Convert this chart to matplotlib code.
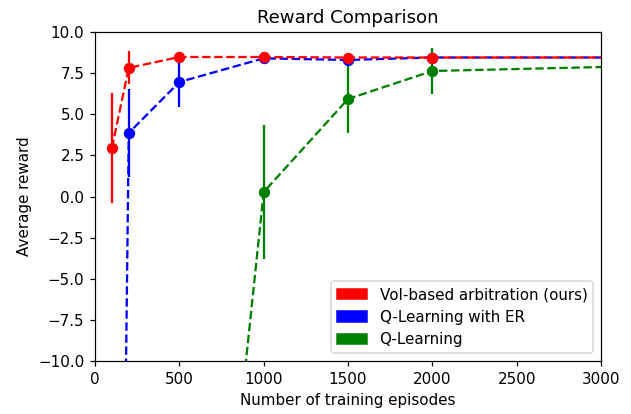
import numpy as np
import matplotlib
matplotlib.use('Agg')
import matplotlib.pyplot as plt
import matplotlib.patches as mpatches

# episodes at which each method was evaluated
voi_x = [100, 200, 500, 1000, 1500, 2000, 5000]
voi_y = [2.95, 7.82, 8.48, 8.48, 8.45, 8.45, 8.45]
voi_err = [3.35, 1.0, 0.15, 0.1, 0.1, 0.1, 0.1]

er_x = [100, 200, 500, 1000, 1500, 2000, 5000]
er_y = [-83.0, 3.86, 6.96, 8.4, 8.3, 8.45, 8.45]
er_err = [5.0, 2.7, 1.5, 0.15, 0.15, 0.15, 0.1]

ql_x = [500, 1000, 1500, 2000, 5000]
ql_y = [-48.6, 0.27, 5.93, 7.63, 8.35]
ql_err = [5.0, 4.05, 2.07, 1.4, 0.5]

labels = ['VoI-based arbitration (ours)', 'Q-Learning with ER', 'Q-Learning']
colors = ['r', 'b', 'g']

dpi = 109
fig = plt.figure(figsize=(631 / dpi, 414 / dpi), dpi=dpi)
ax = fig.add_axes([0.1506, 0.128, 0.8019, 0.7947])

for x, y, e, c in [(ql_x, ql_y, ql_err, colors[2]),
                   (er_x, er_y, er_err, colors[1]),
                   (voi_x, voi_y, voi_err, colors[0])]:
    ax.errorbar(x, y, yerr=e, color=c, fmt='o--', markersize=6.5,
                linewidth=1.5, elinewidth=1.5, capsize=0)

ax.set_xlim(0, 3000)
ax.set_ylim(-10, 10)
ax.set_title('Reward Comparison', fontsize=12)
ax.set_xlabel('Number of training episodes')
ax.set_ylabel('Average reward')

handles = [mpatches.Patch(color=c, label=l) for c, l in zip(colors, labels)]
ax.legend(handles=handles, loc='lower right')

fig.savefig('out.png', dpi=dpi)
